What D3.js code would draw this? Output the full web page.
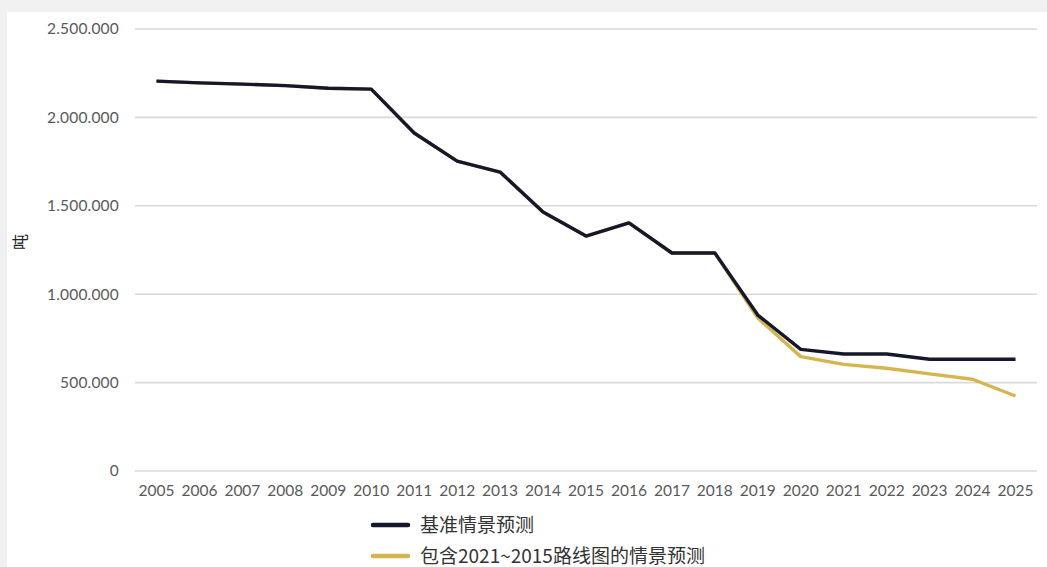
<!DOCTYPE html>
<html>
<head>
<meta charset="utf-8">
<script src="https://cdn.jsdelivr.net/npm/d3@7"></script>
<style>
  html, body { margin: 0; padding: 0; background: #f0f0f0; }
  svg { display: block; }
</style>
</head>
<body>
<svg id="chart"></svg>
<script>
var years = [2005, 2006, 2007, 2008, 2009, 2010, 2011, 2012, 2013, 2014, 2015,
             2016, 2017, 2018, 2019, 2020, 2021, 2022, 2023, 2024, 2025];
var baseline = [2205000, 2195000, 2188000, 2180000, 2165000, 2160000, 1912000, 1753000,
                1691000, 1465000, 1329000, 1403000, 1233000, 1233000, 882000, 688000,
                662000, 662000, 632000, 632000, 632000];
var roadmap = [2205000, 2195000, 2188000, 2180000, 2165000, 2160000, 1912000, 1753000,
               1691000, 1465000, 1329000, 1403000, 1233000, 1233000, 865000, 647000,
               603000, 581000, 549000, 519000, 424000];
var yTicks = [0, 500000, 1000000, 1500000, 2000000, 2500000];
var seriesNames = ["基准情景预测", "包含2021~2015路线图的情景预测"];
var seriesColors = ["#15182c", "#d5b54f"];

var W = 1047, H = 567;
var svg = d3.select("#chart").attr("width", W).attr("height", H);

// white panel
svg.append("rect").attr("x", 7).attr("y", 12).attr("width", W - 7).attr("height", H - 12)
    .attr("fill", "#fff");

var x = d3.scalePoint().domain(years).range([135, 1037]).padding(0.5);
var y = d3.scaleLinear().domain([0, 2500000]).range([471, 29]);

var fmt = function (v) { return v === 0 ? "0" : d3.format(",")(v).replace(/,/g, "."); };

// gridlines
svg.append("g").selectAll("line").data(yTicks).enter().append("line")
    .attr("x1", 135).attr("x2", 1037)
    .attr("y1", function (d) { return y(d); }).attr("y2", function (d) { return y(d); })
    .attr("stroke", "#d9d9d9").attr("stroke-width", 1.6);

// y labels
svg.append("g").selectAll("text").data(yTicks).enter().append("text")
    .attr("x", 119).attr("y", function (d) { return y(d); })
    .attr("dy", "0.35em").attr("text-anchor", "end")
    .attr("font-family", "Lato, sans-serif").attr("font-size", 15.5)
    .attr("letter-spacing", 0.2)
    .attr("fill", "#595959")
    .text(fmt);

// x labels
svg.append("g").selectAll("text").data(years).enter().append("text")
    .attr("x", function (d) { return x(d); }).attr("y", 491)
    .attr("dy", "0.35em").attr("text-anchor", "middle")
    .attr("font-family", "Lato, sans-serif").attr("font-size", 15.5)
    .attr("fill", "#595959")
    .text(function (d) { return d; });

// y title
svg.append("text")
    .attr("transform", "translate(20,242) rotate(-90)")
    .attr("text-anchor", "middle").attr("dy", "0.35em")
    .attr("font-family", "'Noto Sans CJK SC', sans-serif").attr("font-size", 16)
    .attr("fill", "#222")
    .text("吨");

var line = d3.line()
    .x(function (d, i) { return x(years[i]); })
    .y(function (d) { return y(d); });

// gold first, black on top
[roadmap, baseline].forEach(function (s, k) {
    svg.append("path").datum(s)
        .attr("d", line)
        .attr("fill", "none")
        .attr("stroke", seriesColors[1 - k])
        .attr("stroke-width", 3.4)
        .attr("stroke-linejoin", "round");
});

// legend
var leg = svg.append("g").selectAll("g").data(seriesNames).enter().append("g")
    .attr("transform", function (d, i) { return "translate(373," + (525 + i * 31) + ")"; });
leg.append("line").attr("x1", 0).attr("x2", 35)
    .attr("stroke", function (d, i) { return seriesColors[i]; })
    .attr("stroke-width", 4.5).attr("stroke-linecap", "round");
leg.append("text").attr("x", 47).attr("dy", "0.35em")
    .attr("font-family", "'Noto Sans CJK SC', sans-serif").attr("font-size", 19)
    .attr("fill", "#333")
    .text(function (d) { return d; });
</script>
</body>
</html>
